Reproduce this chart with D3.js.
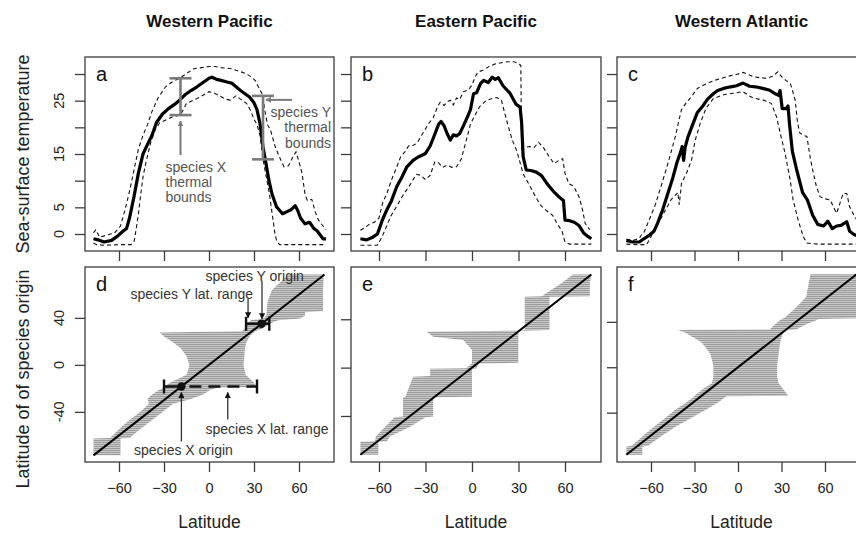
<!DOCTYPE html>
<html><head><meta charset="utf-8">
<script src="https://cdn.jsdelivr.net/npm/d3@7"></script>
<style>body{margin:0;background:#fff}svg{display:block}text{font-family:"Liberation Sans",Arial,Helvetica,sans-serif}</style>
</head><body><svg id="c" width="856" height="533"></svg>
<script>
// ---------------- DATA ----------------
const regions = ["Western Pacific", "Eastern Pacific", "Western Atlantic"];
const topLetters = ["a", "b", "c"];
const botLetters = ["d", "e", "f"];
const xTicks = [-60, -30, 0, 30, 60];
const sstTicks = [0, 5, 10, 15, 20, 25, 30];
const sstLabels = [0, 5, 15, 25];
const originTicks = [-40, 0, 40];

// [latitude, temperature]
const wpMean = [[-77,-0.9],[-74,-1.1],[-70,-1.5],[-65,-1.2],[-61,-0.4],[-57,0.6],[-55,1.0],[-53,3.0],[-50,7.0],[-47,11.5],[-44,15],[-41,16.8],[-38,18.5],[-35,20.9],[-31,22.5],[-27,23.5],[-23,24.3],[-20,25.0],[-16,26.1],[-12,26.9],[-8,27.6],[-4,28.4],[0,29.2],[2,29.4],[5,29.0],[8,28.8],[12,28.5],[15,28.3],[18,27.6],[21,26.9],[24,26.3],[27,25.7],[30,24.6],[32,23.3],[34,20.7],[36,16.3],[38,13.2],[40,10],[42,7.5],[45,5.1],[49,3.8],[52,4.2],[55,4.6],[57.5,5.3],[59,4.5],[61,3.0],[64,1.9],[67,2.2],[70,1.0],[72,0.6],[76,-0.9],[78,-0.9]];
const wpMax = [[-77,0.2],[-75.5,0.8],[-73,-0.6],[-68,-0.2],[-63,0.2],[-59,1.5],[-56,4.5],[-53,8],[-50,12],[-47,16],[-44,18.5],[-41,20.5],[-38,23],[-34,25.5],[-29,27.6],[-24,28.6],[-19,29.3],[-14,30.3],[-10,31],[-5,31.2],[0,31.4],[4,31.4],[8,31.2],[12,31.1],[15,31],[18,30.7],[21.5,30.4],[25,30],[28,29.5],[31,28.7],[33,27.5],[35,26.5],[36,25.9],[37,23.5],[39,20.5],[41,19.5],[44,16.5],[47,14.4],[50,12.6],[53,12.8],[56,14.5],[58,15.4],[60,13.5],[62,11.4],[64,7.5],[65.5,6.3],[67,6.4],[68.5,6.5],[71,4],[73,2.6],[76,1.5],[78,0.8]];
const wpMin = [[-77,-1.7],[-75,-2.0],[-70,-2.1],[-60,-2.0],[-52,-2.0],[-50,-1.5],[-48.5,1.0],[-47,3.9],[-45.5,7.5],[-44,10.7],[-42,13.5],[-39,17],[-36,19.5],[-33,20.8],[-28,21.5],[-24,22],[-19,22.3],[-15,24.5],[-8,25.4],[-4,26],[0,26.7],[3,26.5],[7,25.9],[11,25.3],[14,25.1],[18,25.9],[21,25.3],[25,24.5],[28,23],[30,21.5],[32,20.5],[34,18.5],[36,14],[38,11],[40,8],[42,4],[44,0],[45,-1.2],[47,-2.0],[55,-2.0],[65,-2.0],[78,-2.0]];

const epMean = [[-72,-0.9],[-68,-1.1],[-64,-0.6],[-61,0],[-58,2.5],[-55,4.5],[-52,6.2],[-48.5,8.9],[-45,10.8],[-42,12.6],[-38,13.8],[-35,14.4],[-30,15.1],[-27,16.5],[-24,18.7],[-21.5,20.6],[-20,21.1],[-18,20.3],[-16,18.8],[-14,17.6],[-12,18.6],[-10,18.4],[-8,18.8],[-6,20],[-3,21.9],[-1,23.3],[1,26.3],[3,26.5],[5.5,28.2],[7.5,28.8],[10.5,28.4],[13,29.4],[15,29.0],[17,29.3],[20,27.8],[24.5,26.4],[28.5,24.3],[31,23.8],[32,21],[33,14.5],[35,12],[38,11.9],[41.5,11.6],[45,10.9],[48.5,9.4],[52.5,8.0],[56,7],[59,6.3],[60,2.6],[63,2.5],[66,2.2],[69,1.6],[72,0.2],[75,-0.5],[77,-0.9]];
const epMax = [[-72,0.7],[-69,1.2],[-66,1.9],[-63,2.2],[-60,3.0],[-57.5,6.0],[-55,7.5],[-52,10.1],[-48.5,12.6],[-46,14.5],[-43,15.5],[-41,16.5],[-38,16.6],[-35.5,17],[-32.5,18.5],[-28,20.7],[-25,21.8],[-22,24],[-20.5,24.7],[-18,24.1],[-16,24.8],[-14,25.1],[-12,24.2],[-10,25.5],[-8,25.2],[-5.5,26.7],[-2.5,27],[0,27.9],[2,29.5],[4,30.4],[7,30.7],[11,31.4],[15,31.9],[19,32.1],[23,32.3],[27,32.3],[30,32.0],[31.5,31.6],[32,16],[34,16.2],[37,16.4],[40,16.2],[43,17.2],[46.5,16],[50,14.4],[53,13.2],[56.5,13.9],[58.5,14.1],[60,11.4],[62.5,9.4],[65.5,9],[69,7.0],[71,5],[73,2],[76,0.8]];
const epMin = [[-72,-2.1],[-66,-2.1],[-61,-2.1],[-58,-0.5],[-55,1.5],[-52.5,3.3],[-48,5.5],[-44,7.5],[-40,9.2],[-36,11.2],[-33,11],[-30,10.2],[-27,11],[-24,13.5],[-22,13.5],[-19,12.5],[-16,12.9],[-13,12.5],[-10,12.6],[-7,14],[-4,17.2],[-1,20.6],[2,22.3],[5,23.9],[9,25],[13,25.4],[16,25.6],[19,25.1],[21,22.8],[23,20.6],[26,17.6],[29,15.5],[33,11.3],[37.5,8.9],[41,7.0],[44.5,5.3],[48,4.4],[52,3.5],[55,1.9],[58,0.6],[60,-1.5],[63,-1.9],[77,-1.9]];

const waMean = [[-77,-1.2],[-73,-1.5],[-68,-1.5],[-65,-0.9],[-61,-0.2],[-58,0.5],[-55.5,2],[-52,4.5],[-48.5,7.5],[-45,10.5],[-42,13.5],[-39.5,15.4],[-38.5,16.4],[-37.5,13.8],[-36.5,16.2],[-34.5,18.2],[-31,20.7],[-28,22.8],[-24,24.1],[-21,25.3],[-17,26.3],[-14,26.9],[-10,27.3],[-5,27.6],[-1,27.8],[3.5,28.3],[8,27.7],[12,27.6],[17,27.3],[21.5,27],[25,26.4],[28,26],[29,26.9],[30.5,23.5],[33,23.5],[34.5,24],[35.5,20.7],[37.5,15.5],[40.5,12],[44.5,7.8],[48,6.3],[51.5,3.5],[55,1.8],[59,1.5],[62,2.4],[65,1.0],[68,1.5],[71,1.6],[75,2.3],[77,0.5],[80,-0.1],[82,-0.3]];
const waMax = [[-77,-1.0],[-72,-1.2],[-68,-0.8],[-66,0.1],[-65,0.2],[-63,1.5],[-60,3.5],[-57,5.5],[-53,9],[-49,12.6],[-46,15.5],[-43,18.5],[-41,21],[-39,23.3],[-36,24.5],[-32,25.8],[-28,27.3],[-24,27.9],[-19,28.5],[-15,28.9],[-10,29.3],[-5,29.7],[-1,29.9],[3.5,30.3],[7,29.9],[10.5,29.5],[15,29.3],[20,29.2],[24,29.6],[27.5,30.4],[30,29.5],[33,28.8],[36,28.3],[38,26.5],[39.5,25],[41,21],[42.5,19],[45,18.5],[47.5,18.3],[50,14],[52,11.4],[54,9],[56.5,7.0],[60,6.6],[63.5,6.4],[66,5],[68,3.9],[70,5.5],[72.5,7.6],[75,7.6],[77,5.1],[80,3.5],[82,2.6]];
const waMin = [[-77,-1.9],[-70,-2.0],[-63,-2.0],[-60,-0.5],[-58,0.8],[-54,2.5],[-50,4.5],[-46,6.5],[-43.5,7.2],[-41.5,7.8],[-40.5,5.5],[-39,9.5],[-35.5,11.4],[-32,13.9],[-29.5,17.6],[-26,20.8],[-22,23.6],[-17,25.4],[-10,26.1],[-3,26.4],[3.5,26.7],[7,26],[10.5,25.5],[17.5,25.1],[23,24.5],[26.5,22],[29.5,18.5],[32.5,15.1],[36,10.1],[38,6.4],[41.5,2.6],[45,-0.5],[47.5,-1.7],[55,-1.9],[82,-1.9]];

// [origin latitude, southern limit, northern limit] of latitudinal range
const wpRange = [[-77,-77,-59],[-62.7,-77,-59],[-62.2,-66,-53],[-54.8,-60,-46],[-47.9,-54,-39],[-40,-46,-31],[-33.1,-40,-24],[-29.1,-41,-12],[-25.2,-38,-4],[-21.2,-33,1],[-19.3,-30,6],[-18.8,-30,31.8],[-15.3,-26,30],[-8.4,-15,24.5],[-0.5,-13,23],[7.4,-15,23.5],[14.3,-19,24],[19.3,-24,25],[24.2,-30,27],[27.6,-33,29.5],[28.6,22,31],[31.1,24,36],[34.8,24.7,40.2],[38,28,46],[39.5,36,61],[42,38.4,64],[44.9,38.4,64],[45.9,38.4,76],[53.8,39,76],[63.7,42,76],[77,53,76.5]];
const epRange = [[-72,-72,-60.4],[-61.3,-72,-60.4],[-61,-62.6,-55],[-57,-62,-53],[-49,-56,-40],[-41,-50,-30],[-40.5,-44.5,-25],[-24.5,-44.5,-25],[-24,-43,0],[-7.5,-38,0],[-7,-27,0],[-1,-27,0],[-0.5,-4,3],[3.5,0,4],[4,0,29.9],[14.6,0,29.9],[22.8,-5.6,29.9],[25.6,-25,29.9],[29.7,-29.2,29.9],[30.5,30,32],[31.1,34,50],[58.6,34,50],[59,45,76],[65,52,76],[70,58,76],[77,65,77]];
const waRange = [[-77,-77,-66],[-70,-77,-66],[-69,-73,-62],[-59.8,-65,-52],[-51.6,-57,-42],[-44.5,-50,-32],[-37.3,-43,-22],[-31.2,-36,-14],[-25.6,-30,-8],[-25.1,-30,34.7],[-19,-24,31],[-14,-18,28],[-8.7,-17,27],[1.5,-17,27],[11.7,-19,28],[21.9,-25,29],[30.1,-36,31],[32.8,-41,34],[33.2,22,40],[37.3,25,46],[42.4,30,56],[43.4,32,88],[52.6,40,88],[61.8,47,88],[82,50,88]];

// diagonal (origin = latitude) extents
const wpDiag = [-77, 77];
const epDiag = [-72, 77];
const waDiag = [-77, 82];

// example species (panel a / d)
const spX = {lat: -19, tMin: 22.3, tMax: 29.2, origin: -18.4, south: -30, north: 32};
const spY = {lat: 36, tMin: 14, tMax: 25.9, origin: 35, south: 24.7, north: 40.2};

const topSeries = [[wpMean, wpMax, wpMin], [epMean, epMax, epMin], [waMean, waMax, waMin]];
const rangeSeries = [wpRange, epRange, waRange];
const diagSeries = [wpDiag, epDiag, waDiag];

// ---------------- LAYOUT ----------------
const svg = d3.select("#c");
const cols = [
  {l: 85, r: 334, xd: [-82.67, 83.33]},
  {l: 351, r: 601, xd: [-78.06, 83.23]},
  {l: 617, r: 866, xd: [-83.45, 88.28]}
];
const topP = {t: 57, b: 251}, botP = {t: 267, b: 462};
const frameCol = "#3c3c3c";

const defs = svg.append("defs");
const pat = defs.append("pattern").attr("id", "hatch").attr("patternUnits", "userSpaceOnUse")
  .attr("width", 8).attr("height", 2);
pat.append("rect").attr("width", 8).attr("height", 2).attr("fill", "#d6d6d6");
pat.append("rect").attr("width", 8).attr("height", 1.2).attr("fill", "#9a9a9a");
function marker(id, col) {
  defs.append("marker").attr("id", id).attr("viewBox", "0 0 10 10").attr("refX", 9).attr("refY", 5)
    .attr("markerWidth", 6).attr("markerHeight", 6).attr("markerUnits", "userSpaceOnUse").attr("orient", "auto")
    .append("path").attr("d", "M0,0L10,5L0,10Z").attr("fill", col);
}
marker("arG", "#7a7a7a");
marker("arK", "#111");

const ySST = d3.scaleLinear().domain([-3.19, 33.19]).range([topP.b, topP.t]);

cols.forEach((c, i) => {
  const x = d3.scaleLinear().domain(c.xd).range([c.l, c.r]);
  // origin axis uses the same limits as the latitude axis
  const yOri = d3.scaleLinear().domain(c.xd).range([botP.b, botP.t]);
  svg.append("text").attr("x", (c.l + c.r) / 2).attr("y", 21).attr("text-anchor", "middle")
    .attr("dominant-baseline", "central").attr("font-weight", "bold").attr("font-size", 17).attr("fill", "#111").text(regions[i]);
  // ---- top panel ----
  const gT = svg.append("g");
  const clipT = "clipT" + i;
  defs.append("clipPath").attr("id", clipT).append("rect").attr("x", c.l).attr("y", topP.t).attr("width", c.r - c.l).attr("height", topP.b - topP.t);
  const line = d3.line().x(d => x(d[0])).y(d => ySST(d[1]));
  const [mean, mx, mn] = topSeries[i];
  const gl = gT.append("g").attr("clip-path", `url(#${clipT})`);
  [mx, mn].forEach(s => gl.append("path").attr("d", line(s)).attr("fill", "none").attr("stroke", "#111")
    .attr("stroke-width", 1.1).attr("stroke-dasharray", "4,3"));
  gl.append("path").attr("d", line(mean)).attr("fill", "none").attr("stroke", "#000")
    .attr("stroke-width", 3.2).attr("stroke-linejoin", "round");
  gT.append("rect").attr("x", c.l).attr("y", topP.t).attr("width", c.r - c.l).attr("height", topP.b - topP.t)
    .attr("fill", "none").attr("stroke", frameCol).attr("stroke-width", 1.3);
  const axT = gT.append("g").attr("transform", `translate(0,${topP.b})`)
    .call(d3.axisBottom(x).tickValues(xTicks).tickSize(10).tickFormat(""));
  axT.select(".domain").remove();
  axT.selectAll("line").attr("stroke", frameCol).attr("stroke-width", 1.3);
  const ayT = gT.append("g").attr("transform", `translate(${c.l},0)`)
    .call(d3.axisLeft(ySST).tickValues(sstTicks).tickSize(10).tickFormat(""));
  ayT.select(".domain").remove();
  ayT.selectAll("line").attr("stroke", frameCol).attr("stroke-width", 1.3);
  if (i === 0) {
    sstLabels.forEach(v => gT.append("text").attr("transform", `translate(59,${ySST(v)}) rotate(-90)`)
      .attr("text-anchor", "middle").attr("dominant-baseline", "central").attr("font-size", 14.5).attr("fill", "#222").text(v));
  }
  gT.append("text").attr("x", c.l + 11).attr("y", topP.t + 24).attr("font-size", 20).attr("fill", "#111").text(topLetters[i]);

  // ---- bottom panel ----
  const gB = svg.append("g");
  const clipB = "clipB" + i;
  defs.append("clipPath").attr("id", clipB).append("rect").attr("x", c.l).attr("y", botP.t).attr("width", c.r - c.l).attr("height", botP.b - botP.t);
  const gb = gB.append("g").attr("clip-path", `url(#${clipB})`);
  const area = d3.area().y(d => yOri(d[0])).x0(d => x(d[1])).x1(d => x(d[2]));
  gb.append("path").attr("d", area(rangeSeries[i])).attr("fill", "url(#hatch)");
  const dg = diagSeries[i];
  gb.append("line").attr("x1", x(dg[0])).attr("y1", yOri(dg[0])).attr("x2", x(dg[1])).attr("y2", yOri(dg[1]))
    .attr("stroke", "#000").attr("stroke-width", 2);
  gB.append("rect").attr("x", c.l).attr("y", botP.t).attr("width", c.r - c.l).attr("height", botP.b - botP.t)
    .attr("fill", "none").attr("stroke", frameCol).attr("stroke-width", 1.3);
  const axB = gB.append("g").attr("transform", `translate(0,${botP.b})`)
    .call(d3.axisBottom(x).tickValues(xTicks).tickSize(10).tickPadding(11));
  axB.select(".domain").remove();
  axB.selectAll("line").attr("stroke", frameCol).attr("stroke-width", 1.3);
  axB.selectAll("text").attr("font-size", 14.5).attr("fill", "#222").attr("font-family", null);
  const ayB = gB.append("g").attr("transform", `translate(${c.l},0)`)
    .call(d3.axisLeft(yOri).tickValues(originTicks).tickSize(10).tickFormat(""));
  ayB.select(".domain").remove();
  ayB.selectAll("line").attr("stroke", frameCol).attr("stroke-width", 1.3);
  if (i === 0) {
    originTicks.forEach(v => gB.append("text").attr("transform", `translate(59,${yOri(v)}) rotate(-90)`)
      .attr("text-anchor", "middle").attr("dominant-baseline", "central").attr("font-size", 14.5).attr("fill", "#222").text(v));
  }
  gB.append("text").attr("x", c.l + 11).attr("y", botP.t + 24).attr("font-size", 20).attr("fill", "#111").text(botLetters[i]);
  svg.append("text").attr("x", (c.l + c.r) / 2).attr("y", 522).attr("text-anchor", "middle")
    .attr("dominant-baseline", "central").attr("font-size", 17.5).attr("fill", "#222").text("Latitude");

  // ---- annotations ----
  if (i === 0) {
    const gA = svg.append("g");
    const gray = "#7a7a7a";
    [spX, spY].forEach(s => {
      const xx = x(s.lat);
      gA.append("line").attr("x1", xx).attr("x2", xx).attr("y1", ySST(s.tMin)).attr("y2", ySST(s.tMax)).attr("stroke", gray).attr("stroke-width", 2.6);
      [s.tMin, s.tMax].forEach(t => gA.append("line").attr("x1", xx - 11).attr("x2", xx + 11).attr("y1", ySST(t)).attr("y2", ySST(t)).attr("stroke", gray).attr("stroke-width", 2.6));
    });
    const ax0 = x(spX.lat);
    gA.append("line").attr("x1", ax0).attr("x2", ax0).attr("y1", ySST(spX.tMin) + 40).attr("y2", ySST(spX.tMin) + 6)
      .attr("stroke", gray).attr("stroke-width", 2).attr("marker-end", "url(#arG)");
    ["species X", "thermal", "bounds"].forEach((t, k) => gA.append("text").attr("x", ax0 - 15).attr("y", ySST(spX.tMin) + 52 + k * 15)
      .attr("dominant-baseline", "central").attr("font-size", 14).attr("fill", "#555").text(t));
    const ay0 = ySST(spY.tMax) + 4;
    gA.append("line").attr("x1", x(spY.lat) + 29).attr("x2", x(spY.lat) + 3).attr("y1", ay0).attr("y2", ay0)
      .attr("stroke", gray).attr("stroke-width", 2).attr("marker-end", "url(#arG)");
    ["species Y", "thermal", "bounds"].forEach((t, k) => gA.append("text").attr("x", 331).attr("y", ay0 + 12 + k * 15.5)
      .attr("text-anchor", "end").attr("dominant-baseline", "central").attr("font-size", 14).attr("fill", "#555").text(t));

    const gD = svg.append("g");
    const k = "#111";
    const yX = yOri(spX.origin), yY = yOri(spY.origin);
    gD.append("line").attr("x1", x(spX.south)).attr("x2", x(spX.origin)).attr("y1", yX).attr("y2", yX).attr("stroke", k).attr("stroke-width", 2.6);
    gD.append("line").attr("x1", x(spX.origin) + 8).attr("x2", x(spX.north)).attr("y1", yX).attr("y2", yX).attr("stroke", k).attr("stroke-width", 2.6).attr("stroke-dasharray", "12,7");
    [spX.south, spX.north].forEach(v => gD.append("line").attr("x1", x(v)).attr("x2", x(v)).attr("y1", yX - 7).attr("y2", yX + 7).attr("stroke", k).attr("stroke-width", 2.4));
    gD.append("circle").attr("cx", x(spX.origin)).attr("cy", yX).attr("r", 4.2).attr("fill", k);
    gD.append("line").attr("x1", x(spY.south)).attr("x2", x(spY.north)).attr("y1", yY).attr("y2", yY).attr("stroke", k).attr("stroke-width", 2.6);
    [spY.south, spY.north].forEach(v => gD.append("line").attr("x1", x(v)).attr("x2", x(v)).attr("y1", yY - 7).attr("y2", yY + 7).attr("stroke", k).attr("stroke-width", 2.4));
    gD.append("circle").attr("cx", x(spY.origin)).attr("cy", yY).attr("r", 4.2).attr("fill", k);
    const arr = (x1, y1, x2, y2) => gD.append("line").attr("x1", x1).attr("y1", y1).attr("x2", x2).attr("y2", y2)
      .attr("stroke", "#333").attr("stroke-width", 1.3).attr("marker-end", "url(#arK)");
    arr(x(spX.origin), yX + 55, x(spX.origin), yX + 6);
    arr(x(12.5), yX + 33, x(12.5), yX + 6);
    arr(x(spY.south) + 2, yY - 25, x(spY.south) + 2, yY - 6);
    arr(x(spY.origin) + 0.5, yY - 43, x(spY.origin) + 0.5, yY - 5);
    const txt = (tx, ty, s, anchor) => gD.append("text").attr("x", tx).attr("y", ty).attr("text-anchor", anchor)
      .attr("dominant-baseline", "central").attr("font-size", 14).attr("fill", "#333").text(s);
    txt(x(spX.origin) + 2, yX + 63, "species X origin", "middle");
    txt(205.5, yX + 42, "species X lat. range", "start");
    txt(253, yY - 30, "species Y lat. range", "end");
    txt(205.5, yY - 48, "species Y origin", "start");
  }
});

svg.append("text").attr("transform", `translate(23,154) rotate(-90)`).attr("text-anchor", "middle")
  .attr("dominant-baseline", "central").attr("font-size", 18).attr("fill", "#222").text("Sea-surface temperature");
svg.append("text").attr("transform", `translate(23,379) rotate(-90)`).attr("text-anchor", "middle")
  .attr("dominant-baseline", "central").attr("font-size", 18).attr("fill", "#222").text("Latitude of of species origin");
</script></body></html>
